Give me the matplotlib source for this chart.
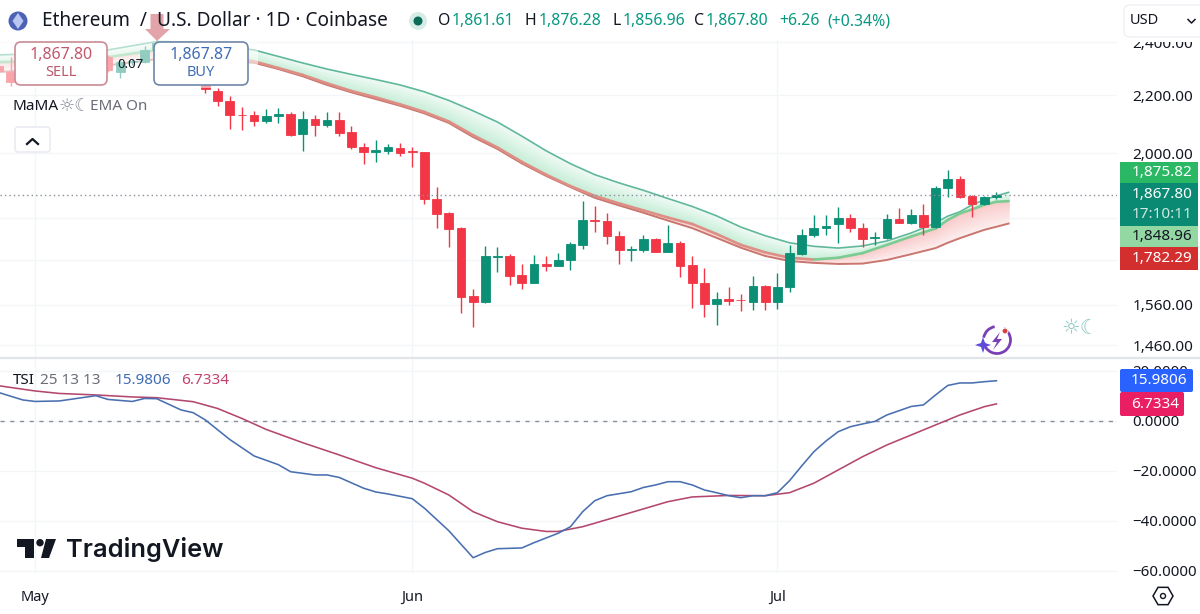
#!/usr/bin/env python3
import numpy as np
import matplotlib
matplotlib.use("Agg")
import matplotlib.pyplot as plt
from matplotlib.patches import Circle, FancyBboxPatch, Polygon, Rectangle, RegularPolygon, Arc
from matplotlib.ticker import FixedLocator, FuncFormatter, NullLocator

plt.rcParams["font.family"] = ["Noto Sans", "DejaVu Sans"]

# Daily candles, first entry is three days before May 1
first_day = -3
opens = [2308, 2285, 2248, 2272, 2300, 2285, 2310, 2295, 2325, 2342,
         2285, 2322, 2323, 2369, 2395, 2370, 2345, 2300, 2216, 2180,
         2131, 2128, 2108, 2126, 2133, 2063, 2114, 2095, 2112, 2070,
         2022, 2005, 2008, 2018, 2006, 2004, 1855, 1812, 1768, 1583,
         1567, 1688, 1690, 1637, 1617, 1669, 1663, 1678, 1722, 1793,
         1790, 1747, 1708, 1707, 1738, 1702, 1726, 1665, 1618, 1563,
         1576, 1573, 1567, 1609, 1567, 1606, 1696, 1748, 1770, 1781,
         1799, 1770, 1740, 1741, 1797, 1784, 1806, 1771, 1890, 1917,
         1866, 1840, 1861.61]
highs = [2330, 2342, 2285, 2320, 2312, 2325, 2330, 2340, 2350, 2350,
         2335, 2335, 2385, 2410, 2400, 2385, 2355, 2320, 2226, 2197,
         2158, 2145, 2151, 2154, 2139, 2145, 2130, 2139, 2139, 2092,
         2035, 2044, 2031, 2035, 2022, 2004, 1891, 1815, 1773, 1602,
         1719, 1714, 1696, 1667, 1694, 1690, 1698, 1730, 1848, 1833,
         1812, 1760, 1718, 1749, 1740, 1779, 1733, 1689, 1656, 1592,
         1607, 1588, 1636, 1611, 1644, 1722, 1766, 1806, 1806, 1832,
         1811, 1783, 1759, 1811, 1829, 1825, 1840, 1896, 1946, 1927,
         1869, 1866, 1876.28]
lows = [2263, 2233, 2240, 2262, 2270, 2278, 2285, 2288, 2310, 2285,
        2263, 2312, 2318, 2360, 2350, 2320, 2300, 2208, 2161, 2081,
        2078, 2092, 2103, 2103, 2058, 2008, 2058, 2087, 2056, 2015,
        1965, 1973, 1998, 1991, 1954, 1841, 1769, 1714, 1539, 1504,
        1564, 1645, 1612, 1601, 1617, 1650, 1662, 1651, 1710, 1759,
        1724, 1668, 1677, 1702, 1700, 1702, 1632, 1551, 1530, 1509,
        1560, 1545, 1547, 1547, 1549, 1594, 1693, 1743, 1749, 1727,
        1759, 1714, 1721, 1737, 1783, 1780, 1749, 1770, 1862, 1858,
        1801, 1837, 1856.96]
closes = [2289, 2248, 2272, 2300, 2285, 2310, 2295, 2325, 2330, 2293,
          2323, 2328, 2369, 2395, 2370, 2345, 2320, 2222, 2179, 2128,
          2129, 2108, 2127, 2133, 2062, 2116, 2095, 2112, 2069, 2020,
          2004, 2012, 2020, 2002, 2004, 1855, 1810, 1767, 1581, 1567,
          1690, 1689, 1635, 1617, 1669, 1663, 1679, 1724, 1793, 1790,
          1746, 1707, 1710, 1738, 1702, 1726, 1663, 1617, 1563, 1575,
          1570, 1571, 1609, 1567, 1607, 1699, 1749, 1770, 1776, 1798,
          1769, 1739, 1742, 1796, 1784, 1806, 1772, 1890, 1917, 1861,
          1839, 1861, 1867.80]

# MaMA ribbon, sampled on these days
ema_days = [-3, 5, 10, 13, 18, 20, 22, 24, 26, 28, 30, 32, 34, 36, 38, 40, 42, 44, 46, 48,
            50, 52, 54, 56, 58, 60, 62, 64, 66, 68, 70, 72, 74, 75, 76, 77, 78, 79, 80]
ema_top = [2350, 2361, 2402, 2400, 2369, 2344, 2319, 2296, 2276, 2257, 2237, 2212, 2181,
           2144, 2105, 2057, 2008, 1966, 1931, 1905, 1882, 1857, 1833, 1805, 1772, 1747,
           1727, 1717, 1712, 1718, 1732, 1755, 1784, 1804, 1817, 1838, 1853, 1865, 1875.82]
ema_mid = [2322, 2334, 2369, 2365, 2325, 2300, 2274, 2243, 2215, 2192, 2167, 2140, 2107,
           2060, 2019, 1972, 1931, 1895, 1865, 1842, 1821, 1800, 1781, 1752, 1721, 1700,
           1685, 1680, 1685, 1698, 1721, 1745, 1768, 1793, 1812, 1824, 1838, 1847, 1848.96]
ema_low = [2285, 2304, 2334, 2334, 2320, 2296, 2269, 2237, 2210, 2186, 2162, 2135, 2102,
           2054, 2014, 1967, 1927, 1892, 1859, 1836, 1814, 1791, 1769, 1741, 1713, 1690,
           1676, 1671, 1668, 1669, 1679, 1695, 1712, 1727, 1740, 1752, 1764, 1773, 1782.29]

# True Strength Index and its signal line
tsi_days = [-3, -1, 0, 2, 4, 5, 6, 8, 9, 10, 12, 13, 14, 16, 18, 20, 21, 23, 24, 25,
            27, 28, 29, 31, 32, 34, 36, 37, 38, 40, 41, 43, 44, 45, 46, 47, 49, 50,
            51, 52, 53, 54, 55, 56, 57, 58, 59, 60, 61, 62, 63, 64, 65, 66, 67, 68,
            69, 70, 71, 72, 73, 74, 75, 76, 77, 78, 79]
tsi_values = [11.3, 8.3, 7.7, 7.9, 9.3, 10.0, 8.5, 7.7, 8.9, 8.8, 4.3, 3.2, 0.3, -7.5,
              -14.1, -17.6, -20.4, -21.7, -21.7, -22.7, -27.0, -28.5, -29.3, -31.2,
              -35.0, -44.0, -54.8, -52.7, -51.2, -50.9, -48.8, -45.0, -42.4, -36.4,
              -32.0, -30.0, -28.4, -26.7, -25.7, -24.4, -24.4, -25.7, -27.7, -28.8,
              -30.0, -30.8, -30.0, -30.0, -28.8, -24.0, -18.1, -12.4, -8.1, -4.4,
              -2.4, -1.3, -0.3, 2.3, 4.0, 5.7, 6.3, 10.3, 14.1, 15.1, 15.1, 15.6, 15.9806]
signal_days = [-3, 0, 2, 5, 8, 10, 13, 15, 17, 19, 22, 25, 28, 31, 32, 34, 36, 38, 40,
               42, 43, 45, 46, 49, 52, 54, 57, 60, 62, 64, 66, 68, 70, 72, 74, 76, 78, 79]
signal_values = [14.0, 11.9, 10.9, 10.3, 9.5, 9.2, 7.6, 4.9, 0.9, -3.5, -8.8, -13.7,
                 -18.8, -23.0, -25.0, -29.7, -36.4, -40.4, -43.0, -44.3, -44.3, -42.4,
                 -41.0, -36.7, -32.4, -30.5, -29.9, -30.0, -28.8, -25.0, -19.7, -14.4,
                 -9.7, -5.7, -1.7, 2.3, 5.6, 6.7334]

price_ticks = [2400, 2200, 2000, 1800, 1680, 1560, 1460]
hidden_price_ticks = [1800, 1680]
tsi_ticks = [20, 0, -20, -40, -60]
month_days = [0, 31, 61]
month_labels = ["May", "Jun", "Jul"]

GREEN = "#0b8f75"
RED = "#f23645"
GRID = "#f4f5f8"
DARK = "#131722"
TEAL = "#089981"
W, H = 1200, 614


def px_axes(fig, top, bottom):
    # axes spanning the chart width between two pixel rows
    return fig.add_axes([0, (H - bottom) / H, 1117 / W, (bottom - top) / H])


def fill_gradient(ax, x, near, far, near_color, far_color, steps=24):
    # strongest colour next to "near", fading towards "far"
    near = np.array(near, dtype=float)
    far = np.array(far, dtype=float)
    c0 = np.array(matplotlib.colors.to_rgb(near_color))
    c1 = np.array(matplotlib.colors.to_rgb(far_color))
    for t in np.linspace(1, 0.04, steps):
        level = near ** (1 - t) * far ** t
        ax.fill_between(x, near, level, color=c0 + (c1 - c0) * t, lw=0, zorder=1)


def price_label(v, _):
    # ticks under the stacked price tags carry no text
    return "" if v in hidden_price_ticks else f"{v:,.2f}"


fig = plt.figure(figsize=(W / 100, H / 100), dpi=100, facecolor="white")
ax = px_axes(fig, 38, 357)
tsi_ax = px_axes(fig, 358, 573)

# x runs in days since May 1
xlim = (-35 / 12.17, (1117 - 35) / 12.17)
days = np.arange(first_day, first_day + len(closes))
o, h, l, c = map(np.array, (opens, highs, lows, closes))
colors = [GREEN if cl >= op else RED for op, cl in zip(o, c)]

ax.set_yscale("log")
ax.set_xlim(*xlim)
ax.set_ylim(1432, 2416)
ax.yaxis.set_major_locator(FixedLocator(price_ticks))
ax.yaxis.set_minor_locator(NullLocator())
ax.yaxis.set_major_formatter(FuncFormatter(price_label))
ax.yaxis.tick_right()
ax.tick_params(axis="y", length=0, pad=11, labelsize=11, labelcolor=DARK)
ax.tick_params(axis="x", length=0, labelbottom=False)
ax.set_xticks(month_days)
ax.grid(True, color=GRID, lw=1, zorder=0)
ax.set_axisbelow(True)
for s in ax.spines.values():
    s.set_visible(False)

# ribbon fills and lines
fill_gradient(ax, ema_days, ema_mid, ema_top, "#c4edd6", "#f0faf5")
fill_gradient(ax, ema_days, ema_mid, ema_low, "#f9caca", "#fdf0f0")
ax.plot(ema_days, ema_top, color="#5fb89a", lw=1.2, zorder=2)
ax.plot(ema_days, ema_low, color="#c9766f", lw=1.4, zorder=2)
for i in range(len(ema_days) - 1):
    seg_color = "#7ccb92" if ema_mid[i + 1] >= ema_mid[i] else "#dd8f86"
    ax.plot(ema_days[i:i + 2], ema_mid[i:i + 2], color=seg_color, lw=1.9,
            solid_capstyle="round", zorder=2)

# candles
ax.vlines(days, l, h, colors=colors, lw=1.0, zorder=3)
ax.bar(days, np.abs(c - o), bottom=np.minimum(o, c), width=0.72, color=colors,
       edgecolor=colors, lw=0.6, zorder=4)
ax.axhline(closes[-1], color="#8a8f9c", lw=1, ls=(0, (1, 2.2)), zorder=5)

# oscillator pane
tsi_ax.set_xlim(*xlim)
tsi_ax.set_ylim(-60.92, 25.08)
tsi_ax.yaxis.set_major_locator(FixedLocator(tsi_ticks))
tsi_ax.yaxis.set_major_formatter(FuncFormatter(lambda v, _: f"{v:.4f}".replace("-", "\u2212")))
tsi_ax.yaxis.tick_right()
tsi_ax.tick_params(axis="y", length=0, pad=11, labelsize=10.8, labelcolor=DARK)
tsi_ax.set_xticks(month_days)
tsi_ax.set_xticklabels(month_labels)
tsi_ax.tick_params(axis="x", length=0, pad=12, labelsize=10.5, labelcolor=DARK)
tsi_ax.grid(True, color=GRID, lw=1, zorder=0)
tsi_ax.set_axisbelow(True)
for s in tsi_ax.spines.values():
    s.set_visible(False)
tsi_ax.axhline(0, color="#8a8f9c", lw=1, ls=(0, (3, 4)), zorder=1)
tsi_ax.plot(signal_days, signal_values, color="#b4476f", lw=1.15, zorder=2)
tsi_ax.plot(tsi_days, tsi_values, color="#4a6fb0", lw=1.15, zorder=3)

# chrome layer in pixel coordinates
ui = fig.add_axes([0, 0, 1, 1], zorder=10)
ui.set_xlim(0, W)
ui.set_ylim(H, 0)
ui.axis("off")
ui.patch.set_alpha(0)


def label(x, y, s, size=11, color=DARK, ha="left", zorder=8, **kw):
    ui.text(x, y, s, fontsize=size, color=color, ha=ha, va="center", zorder=zorder, **kw)


def box(x0, y0, x1, y1, face, edge="none", radius=6, lw=1.2, zorder=6):
    ui.add_patch(FancyBboxPatch((x0 + radius, y0 + radius), x1 - x0 - 2 * radius,
                                y1 - y0 - 2 * radius, boxstyle=f"round,pad={radius}",
                                fc=face, ec=edge, lw=lw, zorder=zorder))


# washes out the oldest candles behind the order buttons
ui.add_patch(Rectangle((0, 38), 258, 50, fc="white", alpha=0.55, ec="none", zorder=1))
ui.add_patch(Rectangle((0, 0), W, 40, fc="white", ec="none", zorder=2))
ui.add_patch(Rectangle((1117, 0), W - 1117, 41.5, fc="white", ec="none", zorder=2))
ui.plot([0, 1200], [357.5, 357.5], color="#e2e4e8", lw=1.6, zorder=3)

# title row
ui.add_patch(Circle((18, 21), 9.5, fc="#4e62b5", ec="none", zorder=4))
ui.add_patch(Polygon([(18, 13), (23.5, 21), (18, 29), (12.5, 21)], fc="#b9c6f2", ec="none", zorder=5))
ui.add_patch(Polygon([(150.5, 14), (163.5, 14), (163.5, 29), (170, 29), (157, 41), (145, 29), (150.5, 29)],
                     fc="#e2a3a9", ec="none", zorder=4))
label(42, 21, "Ethereum  /  U.S. Dollar \u00b7 1D \u00b7 Coinbase", size=13.7)
ui.add_patch(Circle((418, 21), 9, fc="#d6ece6", ec="none", zorder=4))
ui.add_patch(Circle((418, 21), 4.5, fc="#0b6b58", ec="none", zorder=5))
for x, s, col in [(438, "O", DARK), (452, "1,861.61", TEAL), (525, "H", DARK), (539, "1,876.28", TEAL),
                  (612, "L", DARK), (623, "1,856.96", TEAL), (694, "C", DARK), (706, "1,867.80", TEAL),
                  (779, "+6.26", TEAL), (827, "(+0.34%)", TEAL)]:
    label(x, 21, s, size=11.4, color=col)
box(1124, 5, 1208, 37, "white", edge="#eef0f4", lw=1)
label(1130, 21, "USD", size=10.5)
ui.plot([1188, 1191.5, 1195], [19.5, 23, 19.5], color=DARK, lw=1.1, zorder=8)

# order buttons
box(15, 42, 107, 85, "white", edge="#c98b95")
label(61, 55, "1,867.80", size=11.5, color="#c4566b", ha="center", weight="bold")
label(61, 72, "SELL", size=10.5, color="#b85a6c", ha="center")
box(154, 42, 248, 85, "white", edge="#6f86a8")
label(201, 55, "1,867.87", size=11.5, color="#3f6db5", ha="center", weight="bold")
label(201, 72, "BUY", size=10.5, color="#3f6db5", ha="center")
label(130, 64, "0.07", size=9.5, ha="center")

# study legends
label(13, 107, "MaMA", size=11)
label(59, 106, "\u263c\u263e", size=13, color="#8a8e98")
label(90, 107, "EMA On", size=11, color="#6a6d78")
box(15, 127, 50, 152, "white", edge="#e6e8ee", radius=3, lw=1)
ui.plot([27, 32.5, 38], [144, 139, 144], color=DARK, lw=1.6, zorder=8)
label(13, 380, "TSI", size=11)
label(40, 380, "25 13 13", size=11, color="#6a6d78")
label(115, 380, "15.9806", size=11, color="#3f6db5")
label(181, 380, "6.7334", size=11, color="#c4416d")

# price tags on the right scale
for y0, y1, face, txt, col in [(162, 183, "#2bb864", "1,875.82", "white"),
                               (226, 247, "#93d7a3", "1,848.96", DARK),
                               (247, 270, "#d32f2f", "1,782.29", "white")]:
    ui.add_patch(Rectangle((1120, y0), 78, y1 - y0, fc=face, ec="none", zorder=6))
    label(1162, (y0 + y1) / 2, txt, ha="center", color=col)
ui.add_patch(Rectangle((1120, 183), 78, 43, fc="#0a8a72", ec="none", zorder=6))
label(1162, 195, "1,867.80", ha="center", color="white")
label(1162, 214, "17:10:11", ha="center", color="#cfe9e3")
box(1120, 369, 1193, 392, "#2962ff", radius=2)
label(1159, 381, "15.9806", ha="center", color="white")
box(1120, 392, 1184, 416, "#e91e63", radius=2)
label(1155, 404, "6.7334", ha="center", color="white")

# logo
ui.add_patch(Polygon([(17.3, 539), (34, 539), (34, 558), (25, 558), (25, 547), (17.3, 547)], fc=DARK, ec="none", zorder=6))
ui.add_patch(Circle((40, 542.7), 3.7, fc=DARK, ec="none", zorder=6))
ui.add_patch(Polygon([(46, 539), (56, 539), (49, 558), (41, 558)], fc=DARK, ec="none", zorder=6))
label(66, 549, "TradingView", size=18.3, family="Inter", weight="semibold")

# assistant badge and theme switch
ui.add_patch(Arc((997, 340), 27, 27, theta1=-60, theta2=170, color="#7a3fb5", lw=2, zorder=6))
ui.add_patch(Arc((997, 340), 27, 27, theta1=190, theta2=260, color="#7a3fb5", lw=2, zorder=6))
ui.add_patch(Polygon([(1000, 332), (992, 342), (997, 342), (993, 350), (1002, 339), (997, 339)],
                     fc="#7a3fb5", ec="none", zorder=7))
ui.add_patch(Polygon([(983, 337), (985, 343), (991, 345), (985, 347), (983, 353), (981, 347), (975, 345), (981, 343)],
                     fc="#5d4bdc", ec="none", zorder=7))
ui.add_patch(Circle((1005, 331), 3, fc="#d9433f", ec="white", lw=0.8, zorder=8))
label(1061, 328, "\u263c\u263e", size=15, color="#8cc7c4")

# settings hexagon
ui.add_patch(RegularPolygon((1163, 596), 6, radius=10, orientation=np.pi / 2, fc="none", ec=DARK, lw=1.1, zorder=6))
ui.add_patch(Circle((1163, 596), 2.5, fc="none", ec=DARK, lw=1, zorder=6))

fig.savefig("out.png", dpi=100)
